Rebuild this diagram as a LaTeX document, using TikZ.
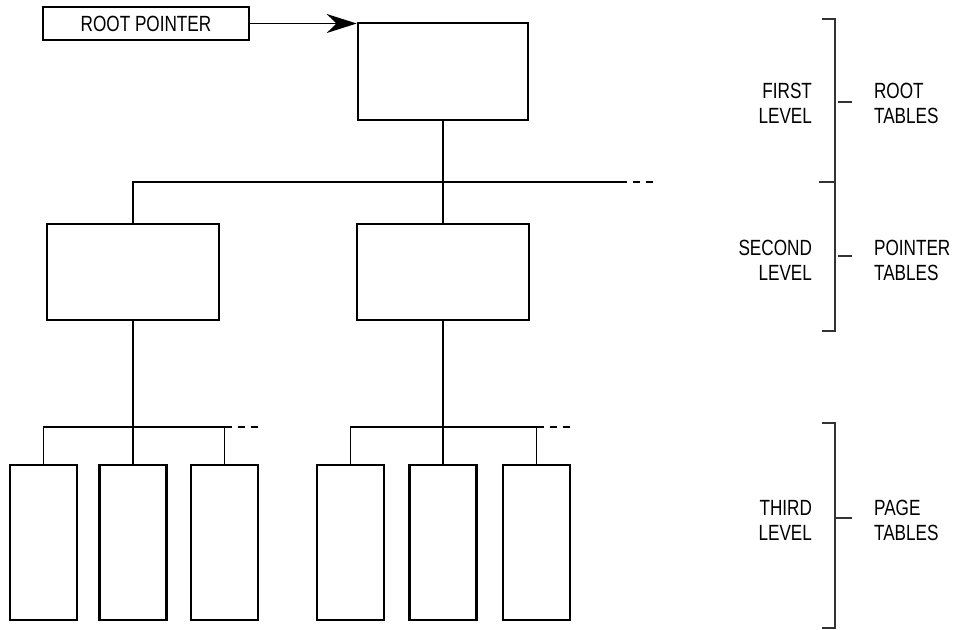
\documentclass[tikz,border=0pt]{standalone}
\usepackage{fontspec}
\setmainfont{Liberation Sans}[FakeStretch=0.78]
\usetikzlibrary{arrows.meta}
\begin{document}
\begin{tikzpicture}
  [x=0.5pt,y=-0.5pt,
   every node/.style={font=\fontsize{11}{12.5}\selectfont},
   table/.style={draw,line width=1.3pt,inner sep=0pt},
   page/.style={table,minimum width=33.5pt,minimum height=77.5pt},
   link/.style={line width=0.7pt},
   more/.style={line width=0.7pt,dash pattern=on 3.5pt off 3pt},
   brace/.style={line width=0.9pt,black!80},
   levtext/.style={anchor=east,align=right},
   tabtext/.style={anchor=west,align=left}]
  \useasboundingbox (0,0) rectangle (953,629);

  \node[table,line width=1pt,minimum width=103pt,minimum height=16.5pt] (ptr) at (146,23.5) {ROOT POINTER};
  \node[table,minimum width=85pt,minimum height=48.5pt] (root) at (443,71.5) {};
  \node[table,minimum width=86pt,minimum height=48pt] (sec1) at (133,272) {};
  \node[table,minimum width=86pt,minimum height=48pt] (sec2) at (443,272) {};
  \foreach \n/\x in {p1/43.5,p2/133,p3/224.5,p4/350.5,p5/443,p6/536.5}
    \node[page] (\n) at (\x,542.5) {};

  \draw[link,-{Stealth[length=15pt,width=9.5pt]}] (ptr.east) -- (ptr.east -| root.west);

  \foreach \from/\to in {root/sec2,sec1/p2,sec2/p5}
    \draw[link] (\from) -- (\to);

  \coordinate (e1) at (620,182);
  \coordinate (e2) at (224.5,427);
  \coordinate (e3) at (536.5,427);
  \draw[link] (sec1.north) |- (e1);
  \draw[link] (p1.north) |- (e2) -- (p3.north);
  \draw[link] (p4.north) |- (e3) -- (p6.north);
  \draw[more] (e1) -- ++(37,0);
  \draw[more] (e2) -- ++(38,0);
  \draw[more] (e3) -- ++(38,0);

  % level brackets
  \draw[brace] (822,19) -- (835,19) -- (835,331) -- (822,331);
  \draw[brace] (819,182) -- (835,182);
  \draw[brace] (822,423) -- (835,423) -- (835,628) -- (822,628);
  \draw[brace] (838,102) -- (852,102);
  \draw[brace] (838,256) -- (852,256);
  \draw[brace] (835,518) -- (852,518);

  \node[levtext] (lv1) at (819,103) {FIRST\\LEVEL};
  \node[levtext] (lv2) at (819,260) {SECOND\\LEVEL};
  \node[levtext] (lv3) at (819,520) {THIRD\\LEVEL};
  \node[tabtext] (tb1) at (867,103) {ROOT\\TABLES};
  \node[tabtext] (tb2) at (867,260) {POINTER\\TABLES};
  \node[tabtext] (tb3) at (867,520) {PAGE\\TABLES};
\end{tikzpicture}
\end{document}
